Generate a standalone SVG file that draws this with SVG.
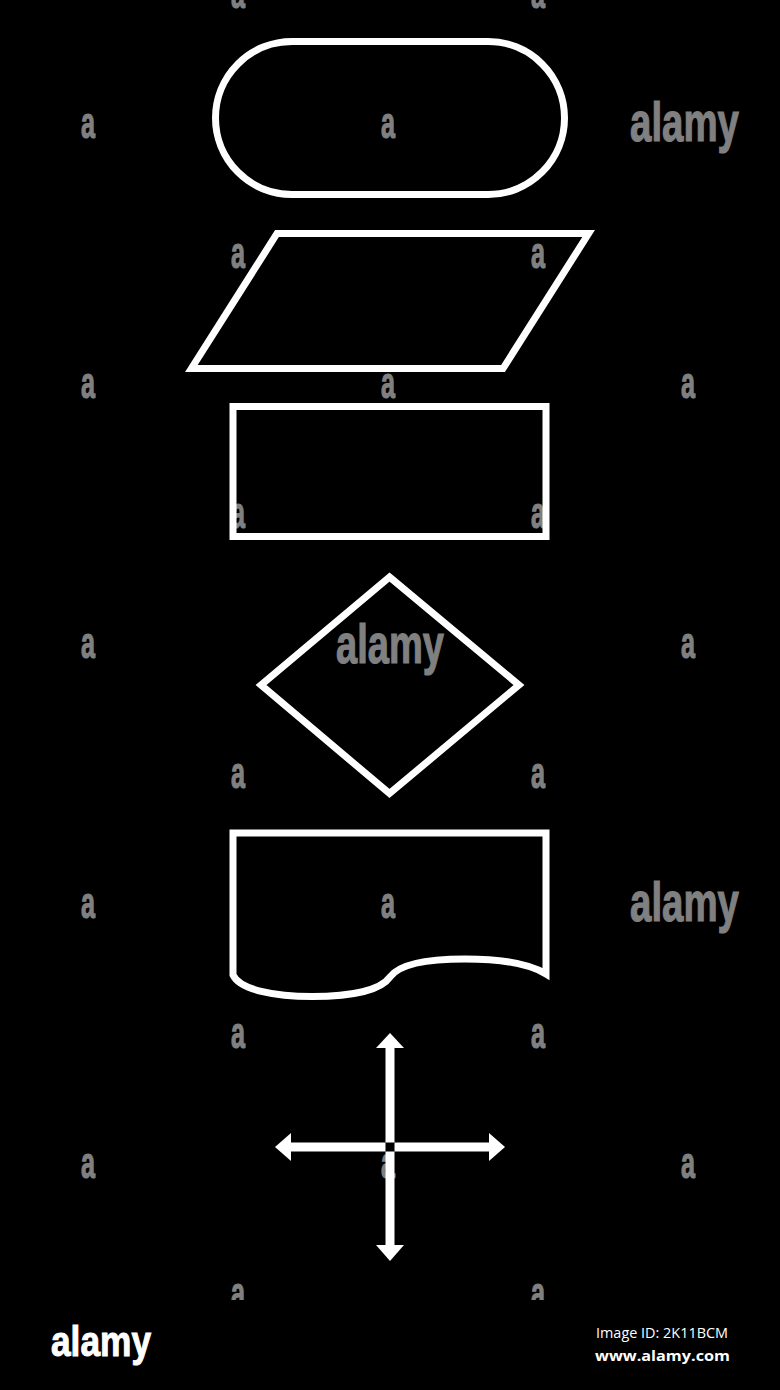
<svg xmlns="http://www.w3.org/2000/svg" width="780" height="1390" viewBox="0 0 780 1390">
<style>
.shape{fill:none;stroke:#ffffff;stroke-width:7;stroke-linejoin:miter;stroke-miterlimit:10}
.wm{fill:#808080;stroke:#808080;stroke-width:1.2;font-family:"Liberation Sans Narrow","Liberation Sans",Arial,sans-serif;font-weight:bold}
.wa{font-size:44px;text-anchor:middle}
.wl{font-size:56px}
.arrow{fill:#ffffff}
.info{fill:#ffffff;font-family:"Open Sans","Noto Sans",sans-serif;font-size:15px}
</style>
<rect x="0" y="0" width="780" height="1390" fill="#000000"/>
<g id="watermarks" class="wm">
<g class="wa">
<text x="238" y="8" textLength="14" lengthAdjust="spacingAndGlyphs">a</text>
<text x="538" y="8" textLength="14" lengthAdjust="spacingAndGlyphs">a</text>
<text x="88" y="138" textLength="14" lengthAdjust="spacingAndGlyphs">a</text>
<text x="388" y="138" textLength="14" lengthAdjust="spacingAndGlyphs">a</text>
<text x="238" y="268" textLength="14" lengthAdjust="spacingAndGlyphs">a</text>
<text x="538" y="268" textLength="14" lengthAdjust="spacingAndGlyphs">a</text>
<text x="88" y="398" textLength="14" lengthAdjust="spacingAndGlyphs">a</text>
<text x="388" y="398" textLength="14" lengthAdjust="spacingAndGlyphs">a</text>
<text x="688" y="398" textLength="14" lengthAdjust="spacingAndGlyphs">a</text>
<text x="238" y="528" textLength="14" lengthAdjust="spacingAndGlyphs">a</text>
<text x="538" y="528" textLength="14" lengthAdjust="spacingAndGlyphs">a</text>
<text x="88" y="658" textLength="14" lengthAdjust="spacingAndGlyphs">a</text>
<text x="688" y="658" textLength="14" lengthAdjust="spacingAndGlyphs">a</text>
<text x="238" y="788" textLength="14" lengthAdjust="spacingAndGlyphs">a</text>
<text x="538" y="788" textLength="14" lengthAdjust="spacingAndGlyphs">a</text>
<text x="88" y="918" textLength="14" lengthAdjust="spacingAndGlyphs">a</text>
<text x="388" y="918" textLength="14" lengthAdjust="spacingAndGlyphs">a</text>
<text x="238" y="1048" textLength="14" lengthAdjust="spacingAndGlyphs">a</text>
<text x="538" y="1048" textLength="14" lengthAdjust="spacingAndGlyphs">a</text>
<text x="88" y="1178" textLength="14" lengthAdjust="spacingAndGlyphs">a</text>
<text x="388" y="1178" textLength="14" lengthAdjust="spacingAndGlyphs">a</text>
<text x="688" y="1178" textLength="14" lengthAdjust="spacingAndGlyphs">a</text>
<text x="238" y="1308" textLength="14" lengthAdjust="spacingAndGlyphs">a</text>
<text x="538" y="1308" textLength="14" lengthAdjust="spacingAndGlyphs">a</text>
</g>
<g class="wl">
<text x="630" y="141" textLength="109" lengthAdjust="spacingAndGlyphs">alamy</text>
<text x="336" y="663" textLength="108" lengthAdjust="spacingAndGlyphs">alamy</text>
<text x="630" y="921" textLength="109" lengthAdjust="spacingAndGlyphs">alamy</text>
</g>
</g>
<g id="terminal">
<rect class="shape" x="215.5" y="41.5" width="349" height="153" rx="76.5" ry="76.5"/>
</g>
<g id="input-output">
<polygon class="shape" points="277,233.5 588.6,233.5 503,368.5 191.4,368.5"/>
</g>
<g id="process">
<rect class="shape" x="233" y="406.5" width="313" height="130"/>
</g>
<g id="decision">
<polygon class="shape" points="389.5,577 519,685 389.5,793.5 261,685"/>
</g>
<g id="document">
<path class="shape" d="M546,833 L233,833 L233,975 C240,990 275,996.5 312,996.5 C352,996.5 381,990 390,977 C400,963 430,959 465,959 C503,959 530,964 546,974 Z"/>
</g>
<g id="connectors">
<g id="arrows" class="arrow">
<rect x="385.5" y="1046" width="9" height="96.5"/>
<rect x="385.5" y="1151.5" width="9" height="95.5"/>
<rect x="289" y="1142.5" width="96.5" height="9"/>
<rect x="394.5" y="1142.5" width="96.5" height="9"/>
<polygon points="390,1033 404,1048 376,1048"/>
<polygon points="390,1261 404,1245 376,1245"/>
<polygon points="275,1147 291,1133 291,1161"/>
<polygon points="505,1147 489,1133 489,1161"/>
</g>
</g>
<g id="footer">
<rect x="0" y="1300" width="780" height="90" fill="#000000"/>
<text x="51" y="1356" fill="#ffffff" stroke="#ffffff" stroke-width="1" font-family="'Liberation Sans Narrow','Liberation Sans',Arial,sans-serif" font-weight="bold" font-size="42" textLength="100" lengthAdjust="spacingAndGlyphs">alamy</text>
<text class="info" x="596" y="1338" textLength="132" lengthAdjust="spacingAndGlyphs">Image ID: 2K11BCM</text>
<text class="info" x="595" y="1361" font-weight="bold" textLength="135" lengthAdjust="spacingAndGlyphs">www.alamy.com</text>
</g>
</svg>
